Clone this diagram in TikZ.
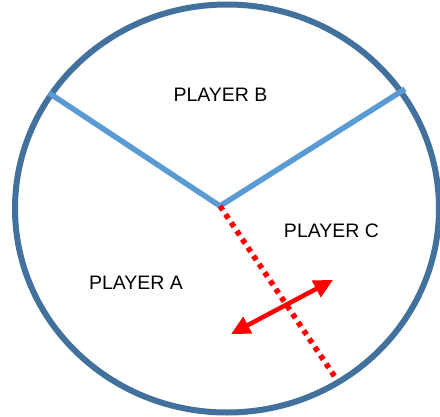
\documentclass[tikz,border=0pt]{standalone}
\usepackage{fontspec}
\setmainfont{Liberation Sans}
\usetikzlibrary{arrows.meta}
\definecolor{rim}{HTML}{41719C}
\definecolor{cut}{HTML}{5B9BD5}
\definecolor{move}{HTML}{FF0000}
\tikzset{
  rimline/.style = {draw=rim, line width=6pt},
  cutline/.style = {draw=cut, line width=5.5pt},
  newcut/.style  = {draw=move, line width=5.5pt, dash pattern=on 5pt off 5pt},
  slide/.style   = {draw=move, line width=4.5pt, {Triangle[length=19pt,width=18pt]}-{Triangle[length=19pt,width=18pt]}},
  who/.style     = {font=\fontsize{19.5}{23}\selectfont, text=black, inner sep=0pt},
}

\begin{document}
\begin{tikzpicture}[x=1pt, y=-1pt]
  \useasboundingbox (0,0) rectangle (440,416);

  % cake
  \draw[rimline] (227,208.5) ellipse [x radius=212, y radius=204];

  \coordinate (hub) at (220,206);
  \coordinate (rimL) at (49,93);
  \coordinate (rimR) at (405,89);
  \coordinate (rimD) at (337,380);
  \draw[cutline, line join=miter] (rimL) -- (hub) -- (rimR);

  % moving cut
  \draw[newcut] (hub) -- (rimD);
  \coordinate (tipA) at (231,334);
  \coordinate (tipC) at (333,280);
  \draw[slide] (tipA) -- (tipC);

  \node[who] (pB) at (220.5,95) {PLAYER B};
  \node[who] (pC) at (331.5,230.5) {PLAYER C};
  \node[who] (pA) at (136,282.5) {PLAYER A};
\end{tikzpicture}
\end{document}
